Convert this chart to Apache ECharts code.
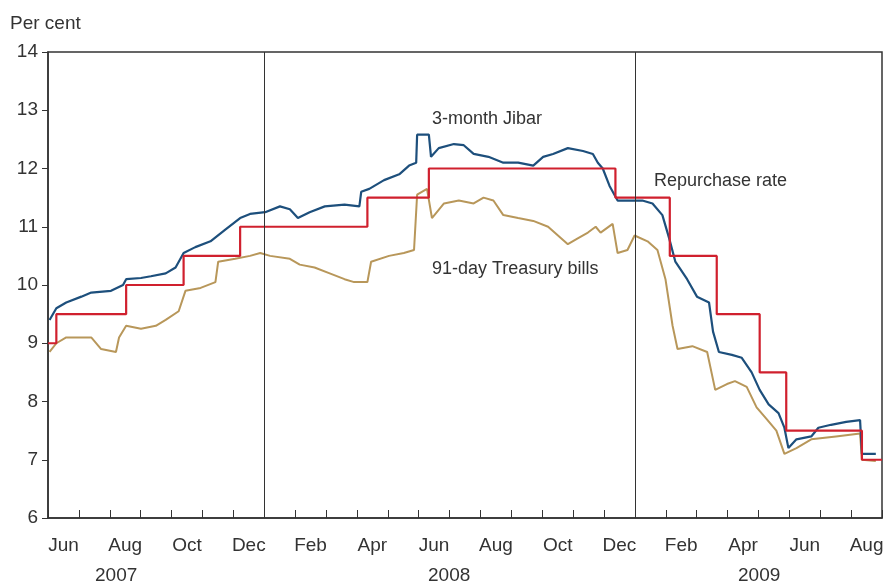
<!DOCTYPE html>
<html><head><meta charset="utf-8">
<script src="https://cdn.jsdelivr.net/npm/echarts@6/dist/echarts.min.js"></script>
<style>html,body{margin:0;padding:0;background:#fff}#c{width:887px;height:584px}</style>
</head><body><div id="c"></div>
<script>
// x values: months since 1 Jun 2007
var monthNames = ['Jun','Jul','Aug','Sep','Oct','Nov','Dec','Jan','Feb','Mar','Apr','May','Jun','Jul','Aug','Sep','Oct','Nov','Dec','Jan','Feb','Mar','Apr','May','Jun','Jul','Aug'];
var yearLabels = ['2007','2008','2009'];
var repoRate = [[0,9.0],[0.27,9.5],[2.53,10.0],[4.39,10.5],[6.22,11.0],[10.34,11.5],[12.33,12.0],[18.37,11.5],[20.13,10.5],[21.65,9.5],[23.04,8.5],[23.9,7.5],[26.35,7.0],[27,7.0]];
var jibar = [[0.05,9.4],[0.27,9.6],[0.59,9.7],[1.08,9.8],[1.40,9.87],[2.04,9.9],[2.43,10.0],[2.53,10.1],[3.01,10.12],[3.33,10.15],[3.81,10.2],[4.13,10.3],[4.39,10.55],[4.77,10.65],[5.26,10.75],[5.74,10.95],[6.22,11.15],[6.54,11.22],[7.03,11.25],[7.51,11.35],[7.83,11.3],[8.09,11.15],[8.47,11.25],[8.96,11.35],[9.60,11.38],[10.08,11.35],[10.14,11.6],[10.40,11.65],[10.88,11.8],[11.37,11.9],[11.69,12.05],[11.92,12.1],[11.95,12.58],[12.33,12.58],[12.40,12.2],[12.65,12.35],[13.14,12.42],[13.46,12.4],[13.78,12.25],[14.26,12.2],[14.74,12.1],[15.22,12.1],[15.71,12.05],[16.03,12.2],[16.35,12.25],[16.83,12.35],[17.32,12.3],[17.64,12.25],[17.80,12.1],[17.96,12.0],[18.18,11.7],[18.44,11.45],[18.76,11.45],[19.24,11.45],[19.57,11.4],[19.89,11.2],[20.11,10.8],[20.31,10.4],[20.69,10.1],[21.01,9.8],[21.40,9.7],[21.53,9.2],[21.72,8.85],[22.14,8.8],[22.46,8.75],[22.78,8.5],[23.04,8.2],[23.33,7.95],[23.65,7.8],[23.84,7.55],[23.97,7.2],[24.23,7.35],[24.71,7.4],[24.94,7.55],[25.35,7.6],[25.84,7.65],[26.29,7.68],[26.35,7.1],[26.80,7.1]];
var tbills = [[0.05,8.85],[0.27,9.0],[0.59,9.1],[1.40,9.1],[1.72,8.9],[2.20,8.85],[2.30,9.1],[2.53,9.3],[3.01,9.25],[3.49,9.3],[3.81,9.4],[4.23,9.55],[4.45,9.9],[4.94,9.95],[5.42,10.05],[5.51,10.4],[6.06,10.45],[6.54,10.5],[6.87,10.55],[7.19,10.5],[7.83,10.45],[8.15,10.35],[8.63,10.3],[9.12,10.2],[9.60,10.1],[9.91,10.05],[10.34,10.05],[10.46,10.4],[11.04,10.5],[11.52,10.55],[11.85,10.6],[11.95,11.55],[12.27,11.65],[12.43,11.15],[12.82,11.4],[13.30,11.45],[13.78,11.4],[14.10,11.5],[14.42,11.45],[14.74,11.2],[15.22,11.15],[15.71,11.1],[16.19,11.0],[16.51,10.85],[16.83,10.7],[17.15,10.8],[17.48,10.9],[17.73,11.0],[17.89,10.9],[18.28,11.05],[18.44,10.55],[18.76,10.6],[18.99,10.85],[19.41,10.75],[19.73,10.6],[19.99,10.1],[20.22,9.3],[20.38,8.9],[20.86,8.95],[21.34,8.85],[21.60,8.2],[21.98,8.3],[22.24,8.35],[22.62,8.25],[22.94,7.9],[23.26,7.7],[23.58,7.5],[23.84,7.1],[24.23,7.2],[24.71,7.35],[25.51,7.4],[26.29,7.45],[26.35,7.0],[26.80,6.98]];
var yTicks = [6,7,8,9,10,11,12,13,14];

var chart = echarts.init(document.getElementById('c'));
var font = 'Liberation Sans, Arial, sans-serif';
chart.setOption({
  animation:false,
  grid:{left:48,right:5,top:52,bottom:66,show:true,borderColor:'#333',borderWidth:1.5,outerBoundsMode:'none',containLabel:false},
  xAxis:[{type:'value',min:0,max:27,interval:1,axisLine:{show:true,lineStyle:{color:'#333',width:1.5}},
    axisTick:{show:true,inside:true,length:8,lineStyle:{color:'#333'}},axisLabel:{show:false},splitLine:{show:false}},
   {type:'category',data:monthNames,boundaryGap:true,position:'bottom',axisLine:{show:false},axisTick:{show:false},splitLine:{show:false},
    axisLabel:{show:true,interval:0,color:'#333',fontSize:19,fontFamily:font,margin:18,
      formatter:function(v,i){return i%2===0?v:'';}}}],
  yAxis:{type:'value',min:6,max:14,interval:1,axisLine:{show:true,lineStyle:{color:'#333',width:1.5}},
    axisTick:{show:true,length:6,lineStyle:{color:'#333'}},splitLine:{show:false},
    axisLabel:{color:'#333',fontSize:19,fontFamily:font,margin:10,formatter:function(v){return yTicks.indexOf(v)>=0?String(v):'';}}},
  graphic:[
    {type:'text',left:10,top:14,style:{text:'Per cent',fontSize:19,fontFamily:font,fill:'#333'}},
    {type:'text',left:432,top:110,style:{text:'3-month Jibar',fontSize:18,fontFamily:font,fill:'#333'}},
    {type:'text',left:654,top:172,style:{text:'Repurchase rate',fontSize:18,fontFamily:font,fill:'#333'}},
    {type:'text',left:432,top:260,style:{text:'91-day Treasury bills',fontSize:18,fontFamily:font,fill:'#333'}},
    {type:'text',left:95,top:566,style:{text:yearLabels[0],fontSize:19,fontFamily:font,fill:'#333'}},
    {type:'text',left:428,top:566,style:{text:yearLabels[1],fontSize:19,fontFamily:font,fill:'#333'}},
    {type:'text',left:738,top:566,style:{text:yearLabels[2],fontSize:19,fontFamily:font,fill:'#333'}}
  ],
  series:[
    {type:'line',data:tbills,showSymbol:false,lineStyle:{color:'#b8975a',width:2},z:2,
     markLine:{silent:true,symbol:'none',label:{show:false},lineStyle:{color:'#333',width:1,type:'solid'},data:[{xAxis:7},{xAxis:19}]}},
    {type:'line',data:jibar,showSymbol:false,lineStyle:{color:'#1d4f7c',width:2.2},z:3},
    {type:'line',data:repoRate,step:'end',showSymbol:false,lineStyle:{color:'#d0202e',width:2.2},z:4}
  ]
});
</script></body></html>
